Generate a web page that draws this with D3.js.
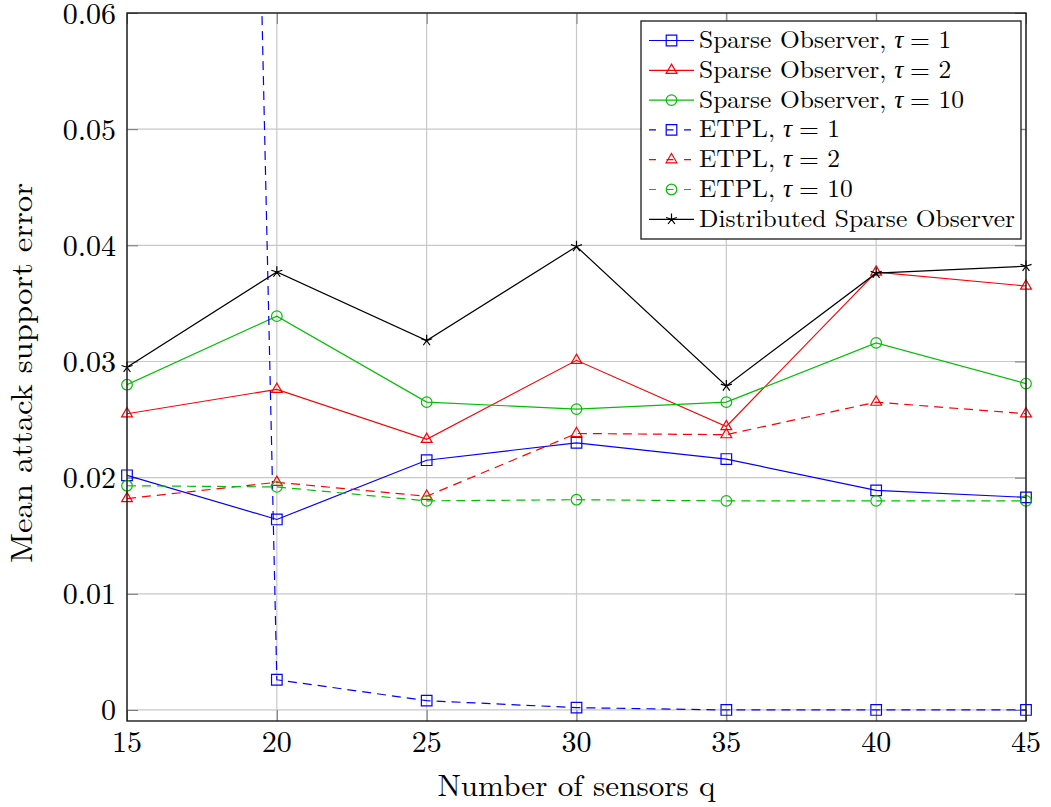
<!DOCTYPE html>
<html>
<head>
<meta charset="utf-8">
<script src="https://cdn.jsdelivr.net/npm/d3@7"></script>
<style>
  body { margin: 0; background: #fff; }
</style>
</head>
<body>
<svg id="chart" width="1051" height="807"></svg>
<script>
// Number of sensors on the horizontal axis
const sensors = [15, 20, 25, 30, 35, 40, 45];

// Mean attack support error for each method
const soTau1    = [0.0202, 0.0164, 0.0215, 0.0230, 0.0216, 0.0189, 0.0183];
const soTau2    = [0.0255, 0.0276, 0.0233, 0.0301, 0.0244, 0.0377, 0.0365];
const soTau10   = [0.0280, 0.0339, 0.0265, 0.0259, 0.0265, 0.0316, 0.0281];
const etplTau1  = [0.58, 0.0026, 0.0008, 0.0002, 0, 0, 0];
const etplTau2  = [0.0182, 0.0196, 0.0184, 0.0238, 0.0237, 0.0265, 0.0255];
const etplTau10 = [0.0193, 0.0192, 0.0180, 0.0181, 0.0180, 0.0180, 0.0180];
const distSO    = [0.0295, 0.0377, 0.0318, 0.0399, 0.0279, 0.0376, 0.0382];

// Tick values
const xTicks = [15, 20, 25, 30, 35, 40, 45];
const yTicks = [0, 0.01, 0.02, 0.03, 0.04, 0.05, 0.06];

// Legend text: [prefix, tau value] (tau value null when absent)
const legendLabels = [
  ["Sparse Observer,", "1"],
  ["Sparse Observer,", "2"],
  ["Sparse Observer,", "10"],
  ["ETPL,", "1"],
  ["ETPL,", "2"],
  ["ETPL,", "10"],
  ["Distributed Sparse Observer", null]
];

const seriesValues = [soTau1, soTau2, soTau10, etplTau1, etplTau2, etplTau10, distSO];
const seriesStyle = [
  { color: "#0000ff", mark: "square",   dashed: false },
  { color: "#ff0000", mark: "triangle", dashed: false },
  { color: "#00c000", mark: "circle",   dashed: false },
  { color: "#0000ff", mark: "square",   dashed: true },
  { color: "#ff0000", mark: "triangle", dashed: true },
  { color: "#00c000", mark: "circle",   dashed: true },
  { color: "#000000", mark: "star",     dashed: false }
];

const FONT = '"Latin Modern Roman", "Liberation Serif", serif';
const svg = d3.select("#chart");
const plot = { left: 127, right: 1026, top: 13, bottom: 721 };

const yMin = -0.00095, yMax = 0.06;
const x = d3.scaleLinear().domain([15, 45]).range([plot.left, plot.right]);
const y = d3.scaleLinear().domain([yMin, yMax]).range([plot.bottom, plot.top]);

// Clip region for the series lines
svg.append("defs").append("clipPath").attr("id", "plot-clip")
  .append("rect")
  .attr("x", plot.left).attr("y", plot.top)
  .attr("width", plot.right - plot.left).attr("height", plot.bottom - plot.top);

// Grid lines
const grid = svg.append("g").attr("class", "grid");
grid.selectAll("line.gx").data(xTicks).join("line")
  .attr("x1", d => x(d)).attr("x2", d => x(d))
  .attr("y1", plot.top).attr("y2", plot.bottom)
  .attr("stroke", "#c8c8c8").attr("stroke-width", 1.2);
grid.selectAll("line.gy").data(yTicks).join("line")
  .attr("x1", plot.left).attr("x2", plot.right)
  .attr("y1", d => y(d)).attr("y2", d => y(d))
  .attr("stroke", "#c8c8c8").attr("stroke-width", 1.2);

// Axes: inward ticks on all four sides, labels on left and bottom
const tickLen = 11;
const fmtY = v => v === 0 ? "0" : d3.format(".2f")(v);

const axisBottom = d3.axisBottom(x).tickValues(xTicks).tickSizeInner(-tickLen).tickSizeOuter(0).tickFormat("");
const axisTop = d3.axisTop(x).tickValues(xTicks).tickSizeInner(-tickLen).tickSizeOuter(0).tickFormat("");
const axisLeft = d3.axisLeft(y).tickValues(yTicks).tickSizeInner(-tickLen).tickSizeOuter(0).tickFormat("");
const axisRight = d3.axisRight(y).tickValues(yTicks).tickSizeInner(-tickLen).tickSizeOuter(0).tickFormat("");

function styleAxis(g) {
  g.select(".domain").remove();
  g.selectAll(".tick text").remove();
  g.selectAll(".tick line").attr("stroke", "#777").attr("stroke-width", 1);
}
svg.append("g").attr("transform", `translate(0,${plot.bottom})`).call(axisBottom).call(styleAxis);
svg.append("g").attr("transform", `translate(0,${plot.top})`).call(axisTop).call(styleAxis);
svg.append("g").attr("transform", `translate(${plot.left},0)`).call(axisLeft).call(styleAxis);
svg.append("g").attr("transform", `translate(${plot.right},0)`).call(axisRight).call(styleAxis);

// Tick labels
svg.append("g").selectAll("text").data(xTicks).join("text")
  .style("font-family", FONT).style("font-size", "30px")
  .attr("x", d => x(d)).attr("y", plot.bottom + 31)
  .attr("text-anchor", "middle")
  .text(d => d);
svg.append("g").selectAll("text").data(yTicks).join("text")
  .style("font-family", FONT).style("font-size", "30px")
  .attr("x", plot.left - 11).attr("y", d => y(d) + 10.5)
  .attr("text-anchor", "end")
  .text(fmtY);

// Axis titles
svg.append("text")
  .style("font-family", FONT).style("font-size", "30px")
  .attr("x", (plot.left + plot.right) / 2).attr("y", 796)
  .attr("text-anchor", "middle")
  .attr("textLength", 278).attr("lengthAdjust", "spacingAndGlyphs")
  .text("Number of sensors q");
svg.append("text")
  .style("font-family", FONT).style("font-size", "30px")
  .attr("transform", "translate(32,373) rotate(-90)")
  .attr("text-anchor", "middle")
  .attr("textLength", 380).attr("lengthAdjust", "spacingAndGlyphs")
  .text("Mean attack support error");

// Marker shapes
function markPath(kind) {
  if (kind === "square") return "M-5.3,-5.3H5.3V5.3H-5.3Z";
  if (kind === "triangle") return "M0,-6.2L5.4,3.1L-5.4,3.1Z";
  if (kind === "circle") {
    const p = d3.path(); p.arc(0, 0, 5.3, 0, 2 * Math.PI); p.closePath(); return p.toString();
  }
  // five-armed star
  let s = "";
  for (let i = 0; i < 5; i++) {
    const a = -Math.PI / 2 + i * 2 * Math.PI / 5;
    s += `M0,0L${(5.8 * Math.cos(a)).toFixed(2)},${(5.8 * Math.sin(a)).toFixed(2)}`;
  }
  return s;
}

const dashPattern = "9,6";
const line = d3.line().x(d => x(d[0])).y(d => y(d[1]));

const seriesG = svg.append("g");
seriesValues.forEach((vals, i) => {
  const st = seriesStyle[i];
  const pts = sensors.map((s, k) => [s, vals[k]]);
  seriesG.append("path")
    .datum(pts)
    .attr("clip-path", "url(#plot-clip)")
    .attr("d", line)
    .attr("fill", "none")
    .attr("stroke", st.color)
    .attr("stroke-width", 1.2)
    .attr("stroke-dasharray", st.dashed ? dashPattern : null);
  seriesG.append("g").selectAll("path")
    .data(pts.filter(p => p[1] <= yMax && p[1] >= yMin))
    .join("path")
    .attr("transform", d => `translate(${x(d[0])},${y(d[1])})`)
    .attr("d", markPath(st.mark))
    .attr("fill", "none")
    .attr("stroke", st.color)
    .attr("stroke-width", 1.2);
});

// Frame
svg.append("rect")
  .attr("x", plot.left).attr("y", plot.top)
  .attr("width", plot.right - plot.left).attr("height", plot.bottom - plot.top)
  .attr("fill", "none").attr("stroke", "#1a1a1a").attr("stroke-width", 1.4);

// Legend
const legend = svg.append("g");
legend.append("rect")
  .attr("x", 641).attr("y", 21).attr("width", 380).attr("height", 218)
  .attr("fill", "#fff").attr("stroke", "#1a1a1a").attr("stroke-width", 1.3);

const legendFont = "24.4px";
legendLabels.forEach((lab, i) => {
  const st = seriesStyle[i];
  const cy = 40.5 + i * 29.8;
  const row = legend.append("g");
  row.append("line")
    .attr("x1", 649).attr("x2", 694).attr("y1", cy).attr("y2", cy)
    .attr("stroke", st.color).attr("stroke-width", 1.2)
    .attr("stroke-dasharray", st.dashed ? "7,10.5" : null);
  row.append("path")
    .attr("transform", `translate(671.5,${cy})`)
    .attr("d", markPath(st.mark))
    .attr("fill", "none").attr("stroke", st.color).attr("stroke-width", 1.2);
  // label pieces laid out one after another: prefix, italic tau, "= value"
  const lbl = row.append("g").attr("transform", `translate(699,${cy + 7.5}) scale(1.045,1)`);
  let cx = 0;
  const prefix = lbl.append("text")
    .style("font-family", FONT).style("font-size", legendFont)
    .attr("x", cx).attr("y", 0).text(lab[0]);
  if (lab[1] !== null) {
    cx += prefix.node().getComputedTextLength() + 7.5;
    const tau = lbl.append("text")
      .style("font-family", FONT).style("font-size", legendFont).style("font-style", "italic")
      .attr("x", cx).attr("y", 0).text("\u03C4");
    cx += tau.node().getComputedTextLength() + 6.5;
    lbl.append("text")
      .style("font-family", FONT).style("font-size", legendFont)
      .attr("x", cx).attr("y", 0).text("= " + lab[1]);
  }
});
</script>
</body>
</html>
